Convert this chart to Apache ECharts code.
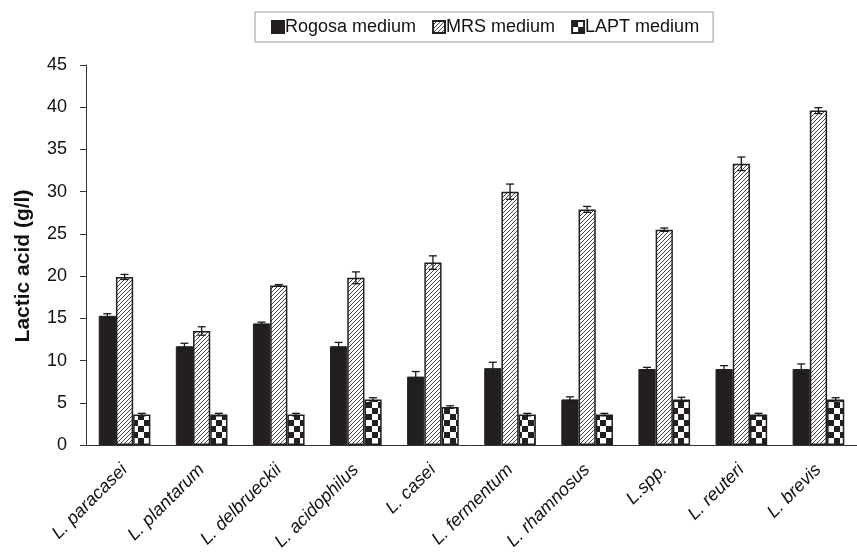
<!DOCTYPE html>
<html><head><meta charset="utf-8">
<script src="https://cdn.jsdelivr.net/npm/echarts@6/dist/echarts.min.js"></script>
<style>html,body{margin:0;padding:0;background:#fff}#c{width:857px;height:560px}</style>
</head><body><div id="c"></div>
<script>
const categories = ['L. paracasei','L. plantarum','L. delbrueckii','L. acidophilus','L. casei','L. fermentum','L. rhamnosus','L.spp.','L. reuteri','L. brevis'];
const rogosa = [15.3, 11.7, 14.4, 11.7, 8.1, 9.1, 5.4, 9.0, 9.0, 9.0];
const rogosaErr = [0.25, 0.35, 0.15, 0.45, 0.6, 0.7, 0.3, 0.2, 0.4, 0.6];
const mrs = [19.9, 13.5, 18.9, 19.8, 21.6, 30.0, 27.9, 25.5, 33.3, 39.6];
const mrsErr = [0.3, 0.5, 0.1, 0.7, 0.8, 0.9, 0.35, 0.2, 0.8, 0.35];
const lapt = [3.6, 3.6, 3.6, 5.4, 4.5, 3.6, 3.6, 5.4, 3.6, 5.4];
const laptErr = [0.15, 0.15, 0.15, 0.2, 0.15, 0.15, 0.15, 0.25, 0.15, 0.2];
const yTicks = [0,5,10,15,20,25,30,35,40,45];

function hatch(){
  const s=4; const c=document.createElement('canvas'); c.width=s; c.height=s;
  const g=c.getContext('2d'); g.fillStyle='#fff'; g.fillRect(0,0,s,s);
  g.strokeStyle='#444'; g.lineWidth=1;
  g.beginPath(); g.moveTo(-1,s+1); g.lineTo(s+1,-1); g.stroke();
  g.beginPath(); g.moveTo(-1,1); g.lineTo(1,-1); g.stroke();
  g.beginPath(); g.moveTo(s-1,s+1); g.lineTo(s+1,s-1); g.stroke();
  return c;
}
function checker(){
  const s=6; const c=document.createElement('canvas'); c.width=2*s; c.height=2*s;
  const g=c.getContext('2d'); g.fillStyle='#fff'; g.fillRect(0,0,2*s,2*s);
  g.fillStyle='#231f20'; g.fillRect(0,0,s,s); g.fillRect(s,s,s,s);
  return c;
}
const hatchPat={image:hatch(),repeat:'repeat'};
const checkPat={image:checker(),repeat:'repeat'};

const chart=echarts.init(document.getElementById('c'));
const CAT_GAP=0.33;
function errSeries(vals, errs, idx){
  return {
    type:'custom', silent:true, z:5,
    data: vals.map((v,i)=>[i, v, errs[i]]),
    renderItem:function(params, api){
      const i=api.value(0), v=api.value(1), e=api.value(2);
      const band=api.size([1,0])[0];
      const bw=band*(1-CAT_GAP)/3;
      const c=api.coord([i,v]);
      const x=c[0]+(idx-1)*bw;
      const yt=api.coord([i,v+e])[1], yb=api.coord([i,v-e])[1];
      const cap=4;
      const st={stroke:'#1a1a1a',lineWidth:1.3};
      return {type:'group',children:[
        {type:'line',shape:{x1:x,y1:yt,x2:x,y2:yb},style:st},
        {type:'line',shape:{x1:x-cap,y1:yt,x2:x+cap,y2:yt},style:st},
        {type:'line',shape:{x1:x-cap,y1:yb,x2:x+cap,y2:yb},style:st}
      ]};
    }
  };
}
chart.setOption({
  animation:false,
  textStyle:{fontFamily:'Liberation Sans, Arial, sans-serif'},
  legend:{
    top:12, left:255, itemGap:16, itemWidth:12, itemHeight:12, icon:'rect',
    borderColor:'#999', borderWidth:1, padding:[6,14,6,16],
    textStyle:{fontSize:18,color:'#111',padding:[0,0,0,-4]},
    data:['Rogosa medium','MRS medium','LAPT medium']
  },
  grid:{left:86, right:-12, top:65, bottom:115, containLabel:false},
  xAxis:{
    type:'category', data:categories,
    axisLine:{lineStyle:{color:'#333',width:1}},
    axisTick:{show:false},
    axisLabel:{rotate:45, fontSize:18, fontStyle:'italic', color:'#111', margin:22, interval:0}
  },
  yAxis:{
    type:'value', min:0, max:45, interval:5,
    name:'Lactic acid (g/l)', nameLocation:'middle', nameGap:52,
    nameTextStyle:{fontSize:21, fontWeight:'bold', color:'#111', padding:[0,22,0,0]},
    axisLine:{show:true, lineStyle:{color:'#333',width:1}},
    axisTick:{show:true, inside:false, length:6, lineStyle:{color:'#333'}},
    axisLabel:{fontSize:18, color:'#111', margin:19},
    splitLine:{show:false}
  },
  series:[
    {name:'Rogosa medium', type:'bar', data:rogosa, barGap:'0%', barCategoryGap:(CAT_GAP*100)+'%',
     itemStyle:{color:'#231f20', borderColor:'#231f20', borderWidth:1}},
    {name:'MRS medium', type:'bar', data:mrs, barGap:'0%', barCategoryGap:(CAT_GAP*100)+'%',
     itemStyle:{color:hatchPat, borderColor:'#231f20', borderWidth:1.5}},
    {name:'LAPT medium', type:'bar', data:lapt, barGap:'0%', barCategoryGap:(CAT_GAP*100)+'%',
     itemStyle:{color:checkPat, borderColor:'#231f20', borderWidth:1.5}},
    errSeries(rogosa, rogosaErr, 0),
    errSeries(mrs, mrsErr, 1),
    errSeries(lapt, laptErr, 2)
  ]
});
</script></body></html>
